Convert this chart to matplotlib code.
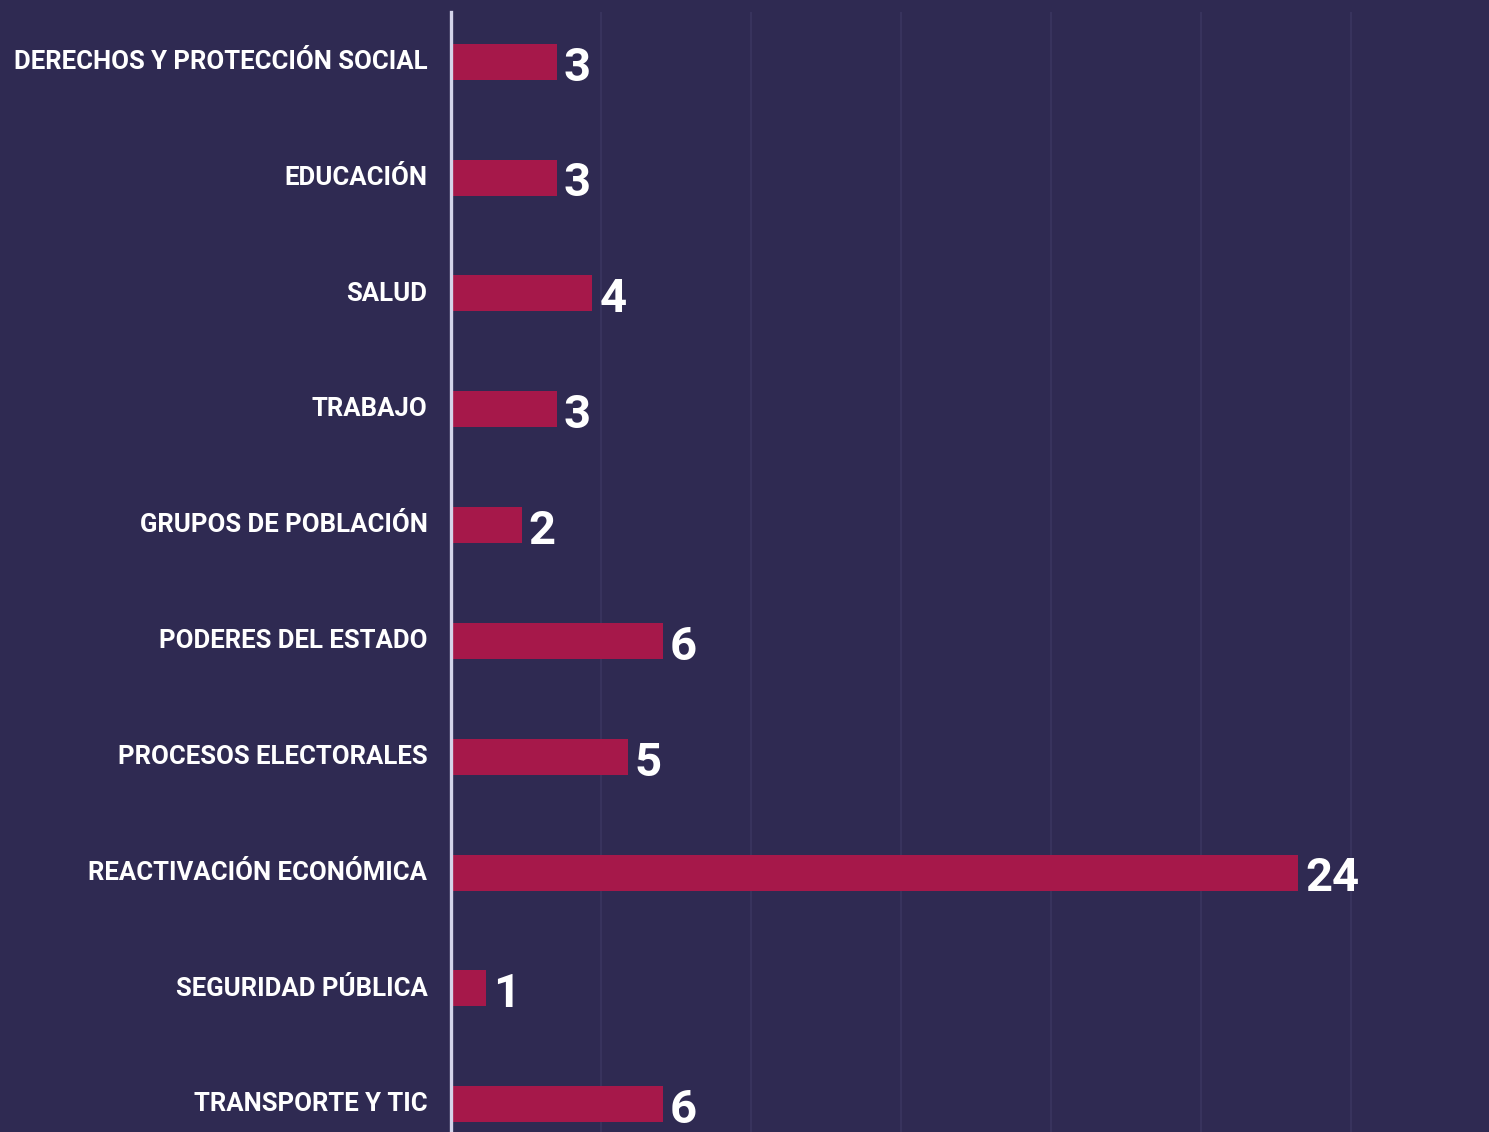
import matplotlib.pyplot as plt
import numpy as np

plt.rcParams['font.family'] = ['Roboto', 'DejaVu Sans']

categories = [
    "DERECHOS Y PROTECCIÓN SOCIAL",
    "EDUCACIÓN",
    "SALUD",
    "TRABAJO",
    "GRUPOS DE POBLACIÓN",
    "PODERES DEL ESTADO",
    "PROCESOS ELECTORALES",
    "REACTIVACIÓN ECONÓMICA",
    "SEGURIDAD PÚBLICA",
    "TRANSPORTE Y TIC",
]
values = [3, 3, 4, 3, 2, 6, 5, 24, 1, 6]

bg = "#2f2a52"
bar_color = "#a6184a"

fig = plt.figure(figsize=(14.89, 11.32), dpi=100)
fig.patch.set_facecolor(bg)
ax = fig.add_axes([451 / 1489, 0, 1 - 451 / 1489, 1 - 12 / 1132])
ax.set_facecolor(bg)

y = np.arange(len(categories))
ax.barh(y, values, height=0.31, color=bar_color, zorder=3)

ax.set_xlim(0, 29.4)
ax.set_ylim(9.24, -0.43)

# faint vertical gridlines
for gx in np.arange(1, 7) * 4.25:
    ax.axvline(gx, color="#3b3660", lw=1.2, zorder=1)

for s in ["top", "right", "bottom"]:
    ax.spines[s].set_visible(False)
ax.spines["left"].set_color("#d4d4ea")
ax.spines["left"].set_linewidth(2.4)
ax.spines["left"].set_zorder(4)

ax.set_xticks([])
ax.set_yticks(y - 0.02)
ax.set_yticklabels(categories, color="white", fontsize=18.5, fontweight="bold")
ax.tick_params(axis="y", length=0, pad=17)

for yi, v in zip(y, values):
    ax.text(v + 0.2, yi + 0.05, str(v), color="white", fontsize=34,
            fontweight="bold", va="center", ha="left", zorder=5)

fig.savefig("out.png", dpi=100, facecolor=bg)
